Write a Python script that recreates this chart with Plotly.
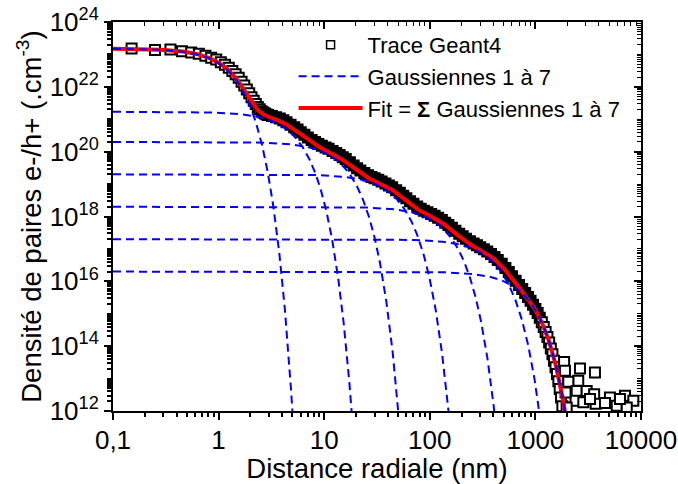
import numpy as np
import plotly.graph_objects as go

# ---- Gaussian components (amplitude in cm^-3, sigma in nm)
gauss_amp = [1.5e23, 1.7e21, 2e20, 2e19, 2e18, 2e17, 2e16]
gauss_sigma = [0.697, 2.79, 8.14, 25.9, 75.7, 220.0, 428.0]

# ---- Geant4 trace (radius in nm, log10 of density)
trace_r = [0.15, 0.25, 0.35, 0.45, 0.55, 0.65, 0.75, 0.85, 0.95, 1.05, 1.15, 1.25, 1.35, 1.45,
           1.55, 1.65, 1.75, 1.85, 1.95, 2.05, 2.15, 2.25, 2.35, 2.45, 2.55, 2.65, 2.75, 2.85, 2.95,
           3.2, 3.5, 3.8, 4.1, 4.4, 4.8, 5.2, 5.6, 6.0, 6.5, 7.0, 7.6, 8.2, 8.8, 9.5, 10.3, 11, 12,
           13, 14, 15, 16, 17.5, 19, 20.5, 22, 24, 26, 28, 30, 32.5, 35, 38, 41, 44, 48, 52, 56,
           60, 65, 70, 76, 82, 88, 95, 103, 111, 120, 130, 140, 150, 162, 175, 190, 205, 220, 240,
           260, 280, 300, 325, 350, 380, 410, 440, 480, 520, 560, 600, 650, 700, 750, 800, 850,
           900, 950, 1000, 1050, 1100, 1150, 1200, 1250, 1300, 1350, 1400, 1450, 1500, 1550,
           1600, 1650, 1700, 1750, 1800,
           1870, 1905, 2642, 3664, 2545, 2049, 2460, 3060, 3600, 5080, 7050, 8460, 2400, 2845,
           3720, 4560, 5890, 7330, 1977, 1930, 3290, 6320]
trace_log10 = [23.18, 23.14, 23.15, 23.10, 23.06, 23.02, 22.96, 22.90, 22.84, 22.76, 22.68, 22.59,
               22.49, 22.39, 22.28, 22.16, 22.04, 21.92, 21.80, 21.68, 21.57, 21.47, 21.38, 21.31,
               21.25, 21.21, 21.18, 21.15, 21.13,
               21.10, 21.06, 21.02, 20.97, 20.91, 20.83, 20.75, 20.68, 20.60, 20.52, 20.44, 20.36,
               20.30, 20.24, 20.18, 20.13, 20.09, 20.02, 19.96, 19.90, 19.83, 19.77, 19.67, 19.57,
               19.49, 19.42, 19.34, 19.27, 19.22, 19.18, 19.13, 19.08, 19.02, 18.96, 18.90, 18.81,
               18.73, 18.64, 18.56, 18.47, 18.39, 18.31, 18.24, 18.18, 18.13, 18.08, 18.02, 17.96,
               17.89, 17.81, 17.74, 17.65, 17.56, 17.47, 17.39, 17.31, 17.24, 17.17, 17.11, 17.05,
               16.99, 16.92, 16.84, 16.75, 16.66, 16.54, 16.41, 16.29, 16.16, 16.02, 15.89, 15.76,
               15.64, 15.52, 15.40, 15.28, 15.15, 15.02, 14.88, 14.74, 14.59, 14.44, 14.28, 14.11,
               13.93, 13.75, 13.55, 13.35, 13.14, 12.92, 12.68, 12.42, 12.15,
               13.51, 13.24, 13.31, 13.19, 12.93, 12.90, 12.62, 12.62, 12.52, 12.42, 12.47, 12.32,
               12.32, 12.27, 12.22, 12.25, 12.16, 12.11, 12.11, 12.57, 12.37, 12.37]

x_tick_vals = [0.1, 1, 10, 100, 1000, 10000]
x_tick_text = ["0,1", "1", "10", "100", "1000", "10000"]
y_tick_vals = [1e12, 1e14, 1e16, 1e18, 1e20, 1e22, 1e24]
y_tick_text = ["10<sup>12</sup>", "10<sup>14</sup>", "10<sup>16</sup>", "10<sup>18</sup>",
               "10<sup>20</sup>", "10<sup>22</sup>", "10<sup>24</sup>"]

FONT = "Liberation Sans, Arial, Helvetica, sans-serif"

# sampling grid for the analytic curves
r_grid = np.logspace(-1, 4, 2000)
comps = [a * np.exp(-r_grid ** 2 / (2 * s ** 2)) for a, s in zip(gauss_amp, gauss_sigma)]
fit = np.sum(comps, axis=0)

tr_r = np.array(trace_r)
tr_y = 10 ** np.array(trace_log10)
fill = ["black" if 2.5 < r <= 1100 else "white" for r in trace_r]

fig = go.Figure()

# trace markers (no legend)
fig.add_trace(go.Scatter(x=tr_r, y=tr_y, mode="markers", showlegend=False, hoverinfo="skip",
                         marker=dict(symbol="square", size=10, color=fill,
                                     line=dict(color="black", width=2))))
# legend entry for the trace
fig.add_trace(go.Scatter(x=[None], y=[None], mode="markers", name="Trace Geant4", legendrank=1,
                         marker=dict(symbol="square-open", size=8, color="black",
                                     line=dict(color="black", width=1.5))))

# fit
mask = fit > 3e11
fig.add_trace(go.Scatter(x=r_grid[mask], y=fit[mask], mode="lines", legendrank=3,
                         name="Fit = <b>Σ</b> Gaussiennes 1 à 7",
                         line=dict(color="#ff0000", width=4)))

# gaussians
for i, c in enumerate(comps):
    m = c > 3e11
    fig.add_trace(go.Scatter(x=r_grid[m], y=c[m], mode="lines", legendrank=2,
                             name="Gaussiennes 1 à 7", legendgroup="g", showlegend=(i == 0),
                             line=dict(color="#0000ff", width=2, dash="8px,5px")))

# dummy trace for mirrored inside ticks
fig.add_trace(go.Scatter(x=[None], y=[None], xaxis="x2", yaxis="y2", showlegend=False,
                         hoverinfo="skip"))

x_minor = [m * 10.0 ** e for e in range(-1, 4) for m in range(2, 10)]
y_minor = [m * 10.0 ** e for e in range(12, 24) for m in range(1, 10) if not (m == 1 and e % 2 == 0)]

axis_common = dict(type="log", showgrid=False, zeroline=False, color="black", automargin=False)

fig.update_layout(
    width=678, height=484,
    margin=dict(l=113, r=37, t=22, b=73),
    paper_bgcolor="white", plot_bgcolor="white",
    font=dict(family=FONT, color="black", size=26),
    hovermode=False,
    xaxis=dict(**axis_common, range=[-1, 4], tickmode="array", tickvals=x_tick_vals,
               ticktext=x_tick_text, ticks="outside", ticklen=7, tickwidth=2,
               showline=True, linecolor="black", linewidth=2, mirror=True,
               tickfont=dict(size=26), ticklabelstandoff=-2, ticklabeloverflow="allow",
               minor=dict(tickmode="array", tickvals=x_minor, ticks="outside", ticklen=4,
                          tickwidth=1.5, tickcolor="black", showgrid=False),
               title=dict(text="Distance radiale (nm)", font=dict(size=27.5), standoff=0)),
    yaxis=dict(**axis_common, range=[12, 24], tickmode="array", tickvals=y_tick_vals,
               ticktext=y_tick_text, ticks="outside", ticklen=7, tickwidth=2,
               showline=True, linecolor="black", linewidth=2, mirror=True,
               tickfont=dict(size=26), ticklabeloverflow="allow",
               minor=dict(tickmode="array", tickvals=y_minor, ticks="outside", ticklen=4,
                          tickwidth=1.5, tickcolor="black", showgrid=False),
               title=dict(text="Densité de paires e-/h+ (.cm<sup>-3</sup>)",
                          font=dict(size=27.5), standoff=0)),
    xaxis2=dict(**axis_common, range=[-1, 4], overlaying="x", side="top", anchor="y2",
                tickmode="array", tickvals=x_tick_vals, ticks="inside", ticklen=7, tickwidth=1.5,
                showticklabels=False, showline=False,
                minor=dict(tickmode="array", tickvals=x_minor, ticks="inside", ticklen=4,
                           tickwidth=1, tickcolor="black")),
    yaxis2=dict(**axis_common, range=[12, 24], overlaying="y", side="right", anchor="x2",
                tickmode="array", tickvals=y_tick_vals, ticks="inside", ticklen=7, tickwidth=1.5,
                showticklabels=False, showline=False,
                minor=dict(tickmode="array", tickvals=y_minor, ticks="inside", ticklen=4,
                           tickwidth=1, tickcolor="black")),
    legend=dict(x=0.342, y=0.995, xanchor="left", yanchor="top", bgcolor="rgba(0,0,0,0)",
                font=dict(size=22), itemwidth=64, tracegroupgap=0),
    showlegend=True,
)

# remove the page's default body margin so the figure sits at the window's top-left corner
fig.write_html("out.html", config={"displayModeBar": False},
               post_script="document.body.style.margin='0px';")
